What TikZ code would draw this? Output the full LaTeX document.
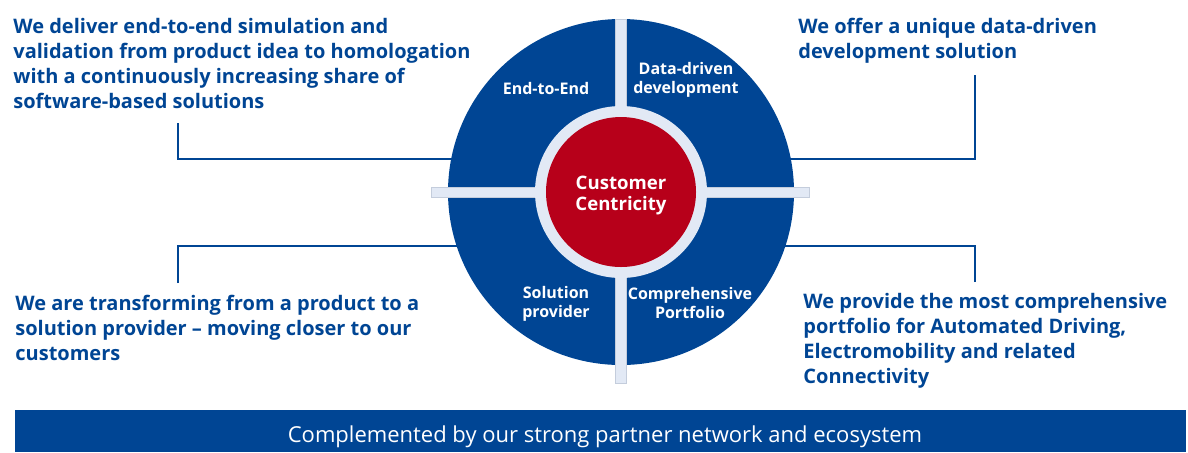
\documentclass[tikz,border=0pt]{standalone}
\usepackage{xcolor}
\usepackage{fontspec}
\setmainfont{Open Sans}
\usepackage{tikz}
\usetikzlibrary{positioning}
\definecolor{corpblue}{RGB}{0,69,148}
\definecolor{corpred}{RGB}{183,0,26}
\definecolor{barfill}{RGB}{226,233,245}
\definecolor{baredge}{RGB}{196,205,220}
\tikzset{link/.style = {draw=corpblue, line width=1pt}}

\begin{document}
\begin{tikzpicture}[x=0.5pt, y=-0.5pt,
    claim/.style={anchor=north west, align=left, inner sep=0pt, text=corpblue, font=\bfseries\fontsize{10}{12.5}\selectfont},
    segment/.style={align=center, inner sep=0pt, text=white, font=\bfseries\fontsize{8}{9.5}\selectfont},
    disc/.style={circle, inner sep=0pt}]
                \useasboundingbox (0,0) rectangle (1188,452);

                % statements around the wheel
                \node[claim] (e2e) at (13,18) {We deliver end-to-end simulation and\\validation from product idea to homologation\\with a continuously increasing share of\\software-based solutions};
                \node[claim] (data) at (798,18) {We offer a unique data-driven\\development solution};
                \node[claim] (solution) at (15,295) {We are transforming from a product to a\\solution provider -- moving closer to our\\customers};
                \node[claim] (portfolio) at (803,293) {We provide the most comprehensive\\portfolio for Automated Driving,\\Electromobility and related\\Connectivity};

                % connectors (drawn first, the wheel covers their ends)
                \coordinate (upper hub) at (621,159);
                \coordinate (lower hub) at (621,246);
                \coordinate (e2e foot) at (178,123);
                \coordinate (data foot) at (975,75);
                \coordinate (solution head) at (178,283);
                \coordinate (portfolio head) at (975,282);
                \path[link] (e2e foot) |- (upper hub);
                \path[link] (data foot) |- (upper hub);
                \path[link] (solution head) |- (lower hub);
                \path[link] (portfolio head) |- (lower hub);

                % the wheel
                \node[disc, fill=corpblue, minimum size=173pt] (wheel) at (621,192) {};
                \filldraw[fill=barfill, draw=baredge, line width=0.3pt] (431,187) rectangle (809,197);
                \filldraw[fill=barfill, draw=baredge, line width=0.3pt] (615,19) rectangle (626,383);
                \node[disc, fill=barfill, minimum size=86pt] (ring) at (wheel) {};
                \node[disc, fill=corpred, minimum size=75pt] (core) at (wheel) {};
                \node[segment, font=\bfseries\fontsize{9.3}{10.5}\selectfont] (core text) at (621,195) {Customer\\Centricity};

                \node[segment] (q1) at (546,88) {End-to-End};
                \node[segment] (q2) at (686,80) {Data-driven\\development};
                \node[segment] (q3) at (556,304) {Solution\\provider};
                \node[segment] (q4) at (690,303) {Comprehensive\\Portfolio};

                % partner banner
                \fill[corpblue] (15,410) rectangle (1186,452);
                \node[text=white, font=\fontsize{11}{13}\selectfont] (partners) at (605,437) {Complemented by our strong partner network and ecosystem};
            \end{tikzpicture}
\end{document}
